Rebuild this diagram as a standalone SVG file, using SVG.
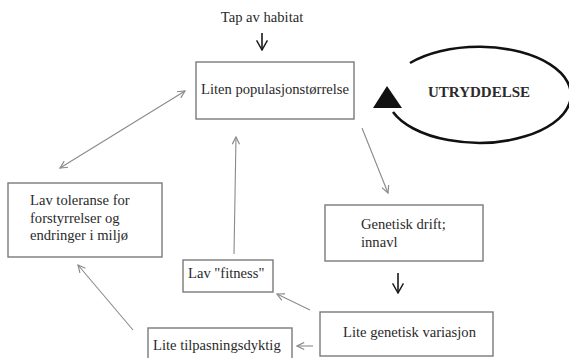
<svg xmlns="http://www.w3.org/2000/svg" width="569" height="358" viewBox="0 0 569 358">
<style>
.box{fill:#fff;stroke:#7a7a7a;stroke-width:1.4}
.t{font-family:"Liberation Serif","Times New Roman",serif;font-size:14.6px;fill:#2a2a2a}
.b{font-family:"Liberation Serif","Times New Roman",serif;font-size:15px;font-weight:bold;fill:#2a2a2a}
.c{fill:none;stroke:#8a8a8a;stroke-width:1.1}
.k{fill:none;stroke:#1a1a1a;stroke-width:1.6}
</style>
<defs>
<marker id="ag" viewBox="0 0 10 10" refX="9" refY="5" markerUnits="userSpaceOnUse" markerWidth="9" markerHeight="9" orient="auto-start-reverse">
<path d="M1,1 L9,5 L1,9" fill="none" stroke="#8a8a8a" stroke-width="1.3"/>
</marker>
<marker id="ak" viewBox="0 0 10 10" refX="9" refY="5" markerUnits="userSpaceOnUse" markerWidth="12" markerHeight="17" orient="auto">
<path d="M1,0.5 L9,5 L1,9.5" fill="none" stroke="#1a1a1a" stroke-width="1.2"/>
</marker>
</defs>
<rect width="569" height="358" fill="#fff"/>

<g id="tap">
<text class="t" x="262" y="22" text-anchor="middle">Tap av habitat</text>
</g>

<g id="liten">
<rect class="box" x="196" y="62" width="158" height="57"/>
<text class="t" x="275" y="94" text-anchor="middle">Liten populasjonstørrelse</text>
</g>

<g id="utryddelse">
<path d="M410,63 A92,48 0 1,1 393,112" fill="none" stroke="#111" stroke-width="2.6"/>
<polygon points="387,86 373,108 402,108" fill="#111"/>
<text class="b" x="479" y="97" text-anchor="middle">UTRYDDELSE</text>
</g>

<g id="genetisk">
<rect class="box" x="325" y="205" width="158" height="56"/>
<text class="t" x="361" y="229">Genetisk drift;</text>
<text class="t" x="361" y="247">innavl</text>
</g>

<g id="variasjon">
<rect class="box" x="320" y="312" width="173" height="44"/>
<text class="t" x="343" y="337">Lite genetisk variasjon</text>
</g>

<g id="toleranse">
<rect class="box" x="8" y="183" width="154" height="74"/>
<text class="t" x="30" y="205">Lav toleranse for</text>
<text class="t" x="30" y="223">forstyrrelser og</text>
<text class="t" x="30" y="240">endringer i miljø</text>
</g>

<g id="fitness">
<rect class="box" x="183" y="260" width="90" height="32"/>
<text class="t" x="188" y="278">Lav "fitness"</text>
</g>

<g id="tilpasning">
<rect class="box" x="148" y="328" width="144" height="34"/>
<text class="t" x="153" y="350">Lite tilpasningsdyktig</text>
</g>

<g id="connectors">
<path class="k" d="M262,33 L262,50" marker-end="url(#ak)"/>
<path class="k" d="M398,273 L398,293" marker-end="url(#ak)"/>
<path class="c" d="M60,168 L185,91" marker-start="url(#ag)" marker-end="url(#ag)"/>
<path class="c" d="M234,254 L236,137" marker-end="url(#ag)"/>
<path class="c" d="M362,128 L388,193" marker-end="url(#ag)"/>
<path class="c" d="M310,310 L277,294" marker-end="url(#ag)"/>
<path class="c" d="M313,346 L297,346" marker-end="url(#ag)"/>
<path class="c" d="M133,330 L78,265" marker-end="url(#ag)"/>
</g>
</svg>
